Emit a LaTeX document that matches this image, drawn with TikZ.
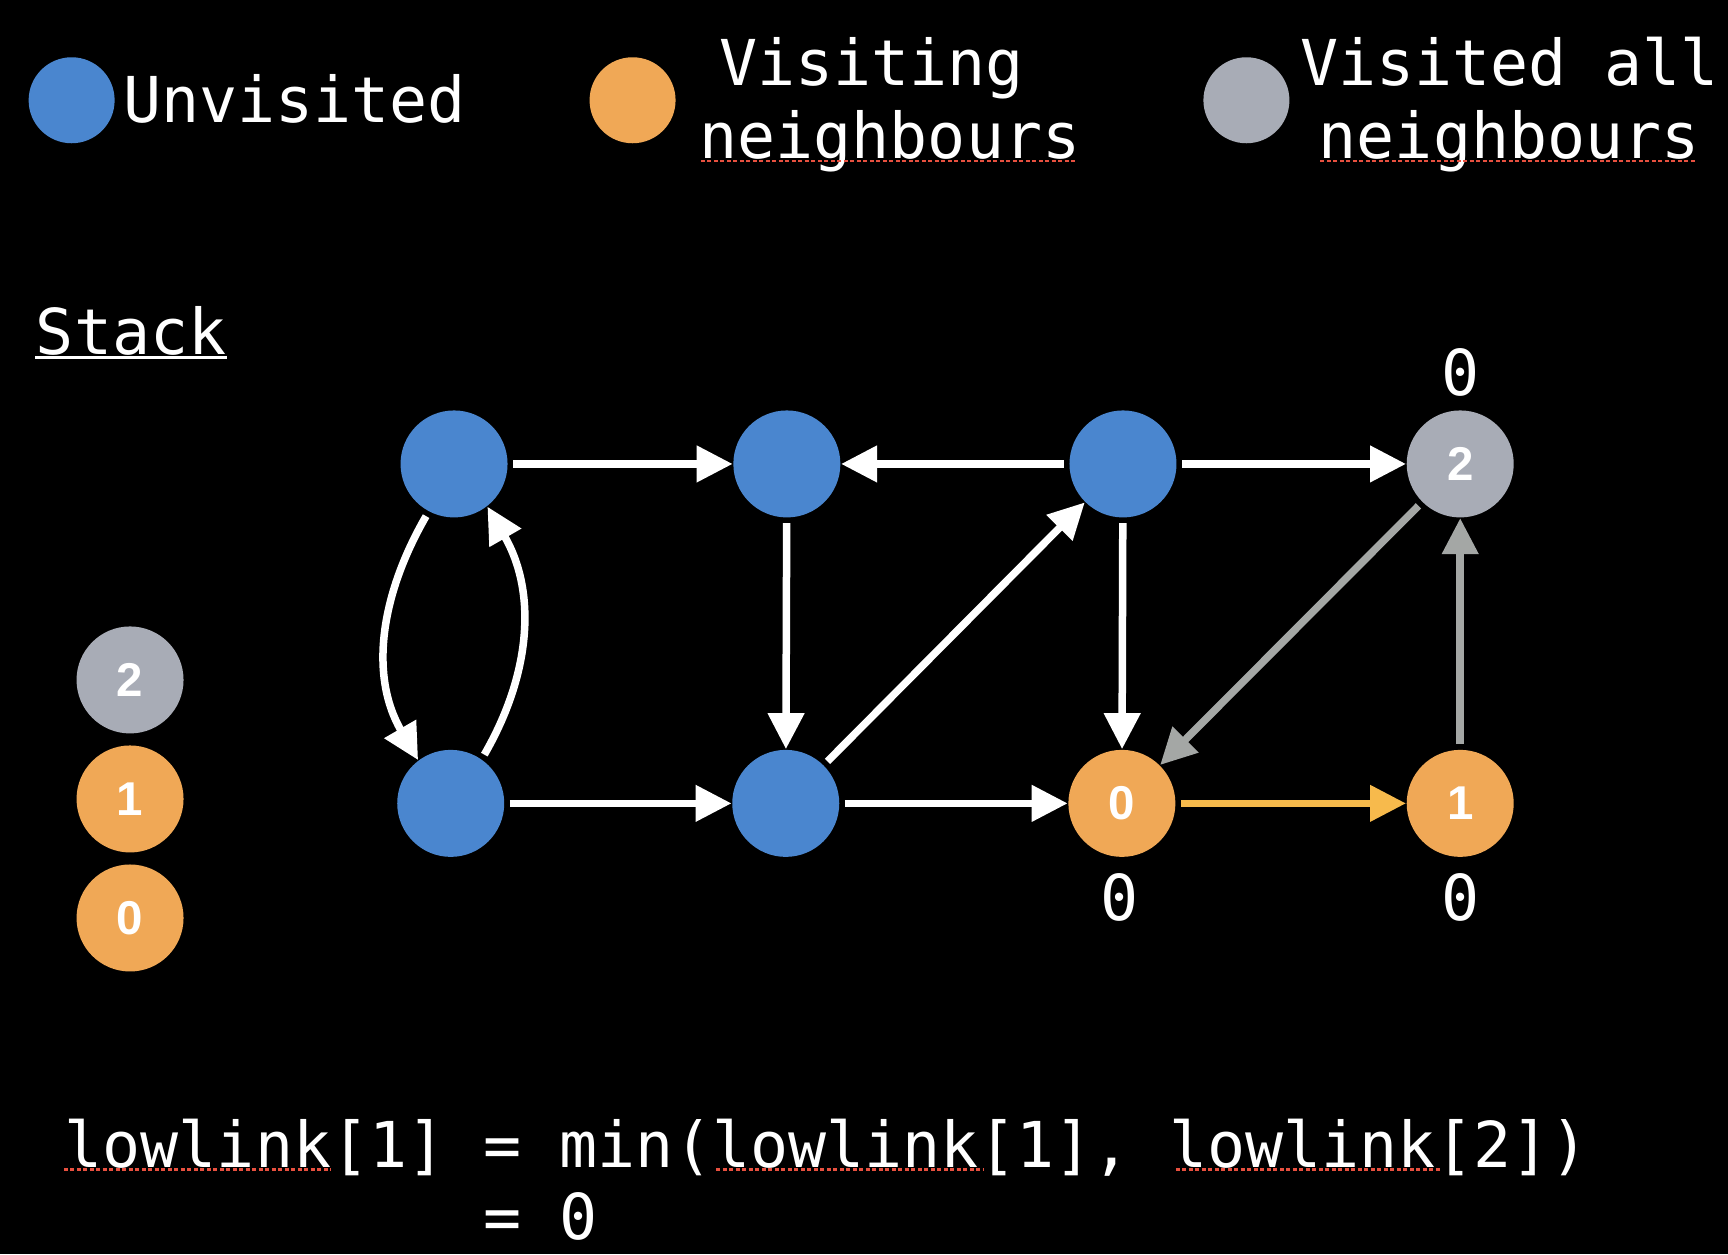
\documentclass[tikz,border=0pt]{standalone}
\usepackage{fontspec}
\setmonofont{DejaVu Sans Mono}
\newfontfamily\digitfont{Liberation Sans}
\usetikzlibrary{arrows.meta}

\definecolor{unvisited}{HTML}{4A86CF}
\definecolor{visiting}{HTML}{F0A856}
\definecolor{visited}{HTML}{A8ACB6}
\definecolor{greyarrow}{HTML}{A4A7A5}
\definecolor{orangearrow}{HTML}{F7BA4C}
\definecolor{spellred}{HTML}{E8503F}

\tikzset{
  vertex/.style={circle, minimum size=10.7mm, inner sep=0pt, text=white,
    font=\digitfont\bfseries\fontsize{13.5}{13.5}\selectfont},
  key/.style={circle, minimum size=8.6mm, inner sep=0pt},
  link/.style={line width=0.75mm, -{Triangle[length=3.6mm, width=3.5mm]}, shorten <=0.5mm},
  mono/.style={text=white, font=\ttfamily\fontsize{18}{20}\selectfont, inner sep=0pt, anchor=base west},
  squiggle/.style={spellred, line width=0.25mm, dash pattern=on 0.4mm off 0.25mm}
}

\begin{document}
\begin{tikzpicture}[x=0.1102mm, y=0.1102mm]
  \fill [black] (0, 0) rectangle (1568, 1138);
  \useasboundingbox (0, 0) rectangle (1568, 1138);

  % legend
  \node [key, fill=unvisited] (key1) at (65, 1047) {};
  \node [mono] (key1text) at (111, 1027) {Unvisited};
  \node [key, fill=visiting] (key2) at (574, 1047) {};
  \node [mono] (key2text) at (652, 1060) {Visiting};
  \node [mono] (key2more) at (634, 994) {neighbours};
  \node [key, fill=visited] (key3) at (1131, 1047) {};
  \node [mono] (key3text) at (1179, 1060) {Visited all};
  \node [mono] (key3more) at (1196, 994) {neighbours};
  \draw [squiggle] (636, 992) -- (978, 992);
  \draw [squiggle] (1198, 992) -- (1540, 992);

  % stack
  \node [mono] (stack) at (32, 816) {Stack};
  \draw [white, line width=0.3mm] ([yshift=-0.3mm]stack.base west) -- ([yshift=-0.3mm]stack.base east);
  \node [vertex, fill=visited] (s2) at (118, 521) {2};
  \node [vertex, fill=visiting] (s1) at (118, 413) {1};
  \node [vertex, fill=visiting] (s0) at (118, 305) {0};

  % graph
  \node [vertex, fill=unvisited] (A) at (412, 717) {};
  \node [vertex, fill=unvisited] (B) at (714, 717) {};
  \node [vertex, fill=unvisited] (C) at (1019, 717) {};
  \node [vertex, fill=visited] (D) at (1325, 717) {2};
  \node [vertex, fill=unvisited] (E) at (409, 409) {};
  \node [vertex, fill=unvisited] (F) at (713, 409) {};
  \node [vertex, fill=visiting] (G) at (1018, 409) {0};
  \node [vertex, fill=visiting] (H) at (1325, 409) {1};

  \node [mono, anchor=base] (lowD) at (1325, 779) {0};
  \node [mono, anchor=base] (lowG) at (1016, 303) {0};
  \node [mono, anchor=base] (lowH) at (1325, 303) {0};

  \draw [link, white] (A) -- (B);
  \draw [link, white] (C) -- (B);
  \draw [link, white] (C) -- (D);
  \draw [link, white] (A.242) to [out=240, in=120] (E.127);
  \draw [link, white] (E.55) to [out=60, in=-60] (A.308);
  \draw [link, white] (B) -- (F);
  \draw [link, white] (F) -- (C);
  \draw [link, white] (C) -- (G);
  \draw [link, white] (E) -- (F);
  \draw [link, white] (F) -- (G);
  \draw [link, greyarrow] (D) -- (G);
  \draw [link, greyarrow] (H) -- (D);
  \draw [link, orangearrow] (G) -- (H);

  % lowlink update
  \node [mono] (calc) at (58, 79) {lowlink[1] = min(lowlink[1], lowlink[2])};
  \node [mono] (result) at (58, 13) {\phantom{lowlink[1] }= 0};
  \draw [squiggle] (58, 77) -- (300, 77);
  \draw [squiggle] (650, 77) -- (893, 77);
  \draw [squiggle] (1067, 77) -- (1308, 77);
\end{tikzpicture}
\end{document}
